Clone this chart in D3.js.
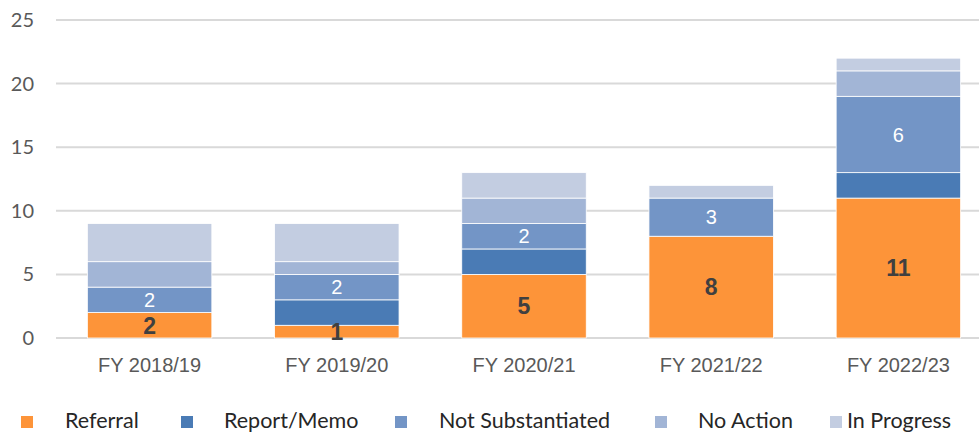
<!DOCTYPE html>
<html>
<head>
<meta charset="utf-8">
<script src="https://cdn.jsdelivr.net/npm/d3@7"></script>
<style>
  body { margin: 0; background: #fff; }
  svg { display: block; }
</style>
</head>
<body>
<div id="chart"></div>
<script>
const years = ['FY 2018/19', 'FY 2019/20', 'FY 2020/21', 'FY 2021/22', 'FY 2022/23'];
const seriesNames = ['Referral', 'Report/Memo', 'Not Substantiated', 'No Action', 'In Progress'];
const referral = [2, 1, 5, 8, 11];
const reportMemo = [0, 2, 2, 0, 2];
const notSubstantiated = [2, 2, 2, 3, 6];
const noAction = [2, 1, 2, 0, 2];
const inProgress = [3, 3, 2, 1, 1];
const yTicks = [0, 5, 10, 15, 20, 25];

const colors = ['#fd9439', '#4a7bb5', '#7395c6', '#a2b5d6', '#c3cde1'];
const legendX = [21, 181, 395, 655, 830];
const legendTextX = [65, 224, 439, 698, 847];

const width = 979, height = 434;
const margin = {top: 20, left: 56, bottom: 96};

const rows = years.map((y, i) => ({
  year: y,
  'Referral': referral[i],
  'Report/Memo': reportMemo[i],
  'Not Substantiated': notSubstantiated[i],
  'No Action': noAction[i],
  'In Progress': inProgress[i]
}));

const stacked = d3.stack().keys(seriesNames)(rows);

const svg = d3.select('#chart').append('svg')
  .attr('width', width)
  .attr('height', height);

const x = d3.scaleBand()
  .domain(years)
  .range([margin.left, 992])
  .paddingInner(0.335)
  .paddingOuter(0.1675);

const y = d3.scaleLinear()
  .domain([0, 25])
  .range([height - margin.bottom, margin.top]);

// gridlines
svg.append('g')
  .selectAll('line')
  .data(yTicks)
  .enter().append('line')
  .attr('x1', margin.left)
  .attr('x2', width)
  .attr('y1', d => y(d))
  .attr('y2', d => y(d))
  .attr('stroke', '#d9d9d9')
  .attr('stroke-width', 2);

// y labels
svg.append('g')
  .selectAll('text')
  .data(yTicks)
  .enter().append('text')
  .attr('x', 34)
  .attr('y', d => y(d))
  .attr('dy', '0.35em')
  .attr('text-anchor', 'end')
  .attr('fill', '#595959')
  .style('font', '20px Lato, sans-serif')
  .text(d => d);

// bars
const layers = svg.append('g')
  .selectAll('g')
  .data(stacked)
  .enter().append('g')
  .attr('fill', (d, i) => colors[i]);

layers.selectAll('rect')
  .data(d => d)
  .enter().append('rect')
  .attr('x', d => x(d.data.year))
  .attr('width', x.bandwidth())
  .attr('y', d => y(d[1]))
  .attr('height', d => y(d[0]) - y(d[1]))
  .attr('stroke', d => (d[1] > d[0] ? '#fff' : 'none'))
  .attr('stroke-width', 0.8);

// x labels
svg.append('g')
  .selectAll('text')
  .data(years)
  .enter().append('text')
  .attr('x', d => x(d) + x.bandwidth() / 2)
  .attr('y', 372)
  .attr('text-anchor', 'middle')
  .attr('fill', '#595959')
  .style('font', '20px "Liberation Sans", Arial, sans-serif')
  .text(d => d);

// data labels: Referral (dark) and Not Substantiated (white)
const labelSpecs = [
  {idx: 0, fill: '#404040', font: 'bold 23px "Liberation Sans", Arial, sans-serif'},
  {idx: 2, fill: '#ffffff', font: '20px "Liberation Sans", Arial, sans-serif'}
];
labelSpecs.forEach(spec => {
  svg.append('g')
    .selectAll('text')
    .data(stacked[spec.idx])
    .enter().append('text')
    .attr('x', d => x(d.data.year) + x.bandwidth() / 2)
    .attr('y', d => y((d[0] + d[1]) / 2))
    .attr('dy', '0.36em')
    .attr('text-anchor', 'middle')
    .attr('fill', spec.fill)
    .style('font', spec.font)
    .text(d => d[1] - d[0]);
});

// legend
const legend = svg.append('g')
  .selectAll('g')
  .data(seriesNames)
  .enter().append('g');

legend.append('rect')
  .attr('x', (d, i) => legendX[i])
  .attr('y', 416)
  .attr('width', 12)
  .attr('height', 12)
  .attr('fill', (d, i) => colors[i]);

legend.append('text')
  .attr('x', (d, i) => legendTextX[i])
  .attr('y', 428)
  .attr('fill', '#262626')
  .style('font', '21.5px Lato, sans-serif')
  .text(d => d);
</script>
</body>
</html>
